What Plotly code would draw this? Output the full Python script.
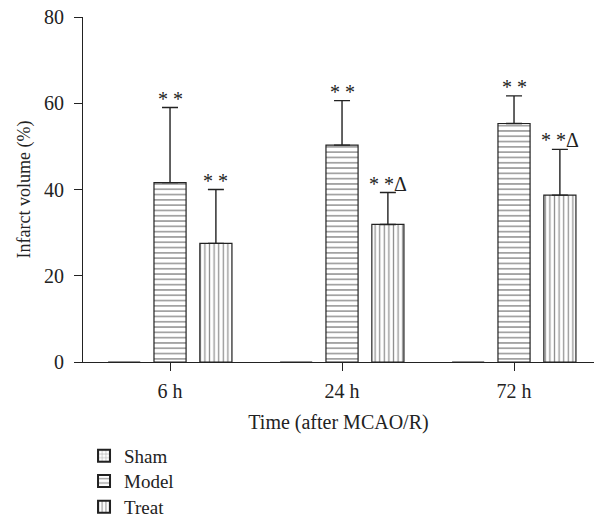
import plotly.graph_objects as go

categories = ["6 h", "24 h", "72 h"]
series_names = ["Sham", "Model", "Treat"]
sham_values = [0, 0, 0]
model_values = [41.6, 50.3, 55.3]
treat_values = [27.5, 31.9, 38.7]
model_err = [17.4, 10.3, 6.4]
treat_err = [12.5, 7.4, 10.6]
model_marks = ["* *", "* *", "* *"]
treat_marks = ["* *", "* *Δ", "* *Δ"]

INK = "#222222"
FONT = "Liberation Serif"
BARGAP = 0.2
GROUPGAP = 0.3

fig = go.Figure()
patterns = {"Sham": ("+", 4.5, 0.22), "Model": ("-", 5.3, 0.28), "Treat": ("|", 4.6, 0.28)}
vals = {"Sham": sham_values, "Model": model_values, "Treat": treat_values}
errs = {"Sham": None, "Model": model_err, "Treat": treat_err}
legend_ids = {"Sham": "legend", "Model": "legend2", "Treat": "legend3"}
for name in series_names:
    e = errs[name]
    shp, sz, sol = patterns[name]
    fig.add_trace(go.Bar(
        x=categories, y=vals[name], name=name, legend=legend_ids[name],
        marker=dict(color="white", line=dict(color=INK, width=1.2),
                    pattern=dict(shape=shp, fgcolor=INK, bgcolor="white",
                                 size=sz, solidity=sol)),
        error_y=(dict(type="data", array=e, arrayminus=[0]*len(e), symmetric=False,
                      color=INK, thickness=1.4, width=8) if e else None),
    ))

slot = (1 - BARGAP) / 3
for i in range(len(categories)):
    fig.add_annotation(x=i, y=model_values[i] + model_err[i], text=model_marks[i],
                       showarrow=False, yanchor="bottom", yshift=-4,
                       font=dict(family=FONT, size=20, color=INK))
    fig.add_annotation(x=i + slot, y=treat_values[i] + treat_err[i], text=treat_marks[i],
                       showarrow=False, yanchor="bottom", yshift=-4,
                       font=dict(family=FONT, size=20, color=INK))

leg_common = dict(x=0.002, xanchor="left", yanchor="middle",
                  font=dict(family=FONT, size=19, color=INK),
                  bgcolor="rgba(0,0,0,0)", itemsizing="constant")
fig.update_layout(
    width=594, height=519,
    margin=dict(l=83, r=0, t=17, b=157, autoexpand=False),
    paper_bgcolor="white", plot_bgcolor="white",
    barmode="group", bargap=BARGAP, bargroupgap=GROUPGAP,
    font=dict(family=FONT, size=19, color=INK),
    showlegend=True,
    legend=dict(y=-0.2725, **leg_common),
    legend2=dict(y=-0.345, **leg_common),
    legend3=dict(y=-0.42, **leg_common),
)
fig.update_xaxes(type="category", range=[-0.506, 2.465], showline=True, linecolor=INK,
                 linewidth=1.2, ticks="outside", ticklen=8, tickcolor=INK, tickwidth=1.2,
                 tickfont=dict(size=20), ticklabelstandoff=3, ticklabeloverflow="allow",
                 title=dict(text="Time (after MCAO/R)", standoff=13, font=dict(size=20)),
                 showgrid=False, zeroline=False, automargin=False)
fig.update_yaxes(range=[0, 80], tickvals=[0, 20, 40, 60, 80], showline=True, linecolor=INK,
                 linewidth=1.2, ticks="outside", ticklen=8, tickcolor=INK, tickwidth=1.2,
                 tickfont=dict(size=20), ticklabelstandoff=6, ticklabeloverflow="allow",
                 title=dict(text="Infarct volume (%)", standoff=8, font=dict(size=18)),
                 showgrid=False, zeroline=False, automargin=False)

fig.write_html("out.html", config={"displayModeBar": False},
               post_script="document.body.style.margin='0px';")
